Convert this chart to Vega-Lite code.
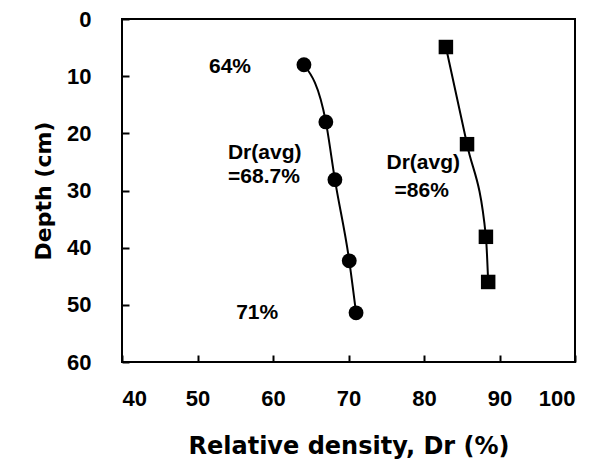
{
  "$schema": "https://vega.github.io/schema/vega-lite/v6.json",
  "autosize": {"type": "none"},
  "padding": {"left": 122, "top": 19, "right": 33, "bottom": 103},
  "width": 453,
  "height": 343,
  "background": "white",
  "config": {
    "view": {"stroke": "black", "strokeWidth": 2, "fill": "transparent"},
    "font": "Liberation Sans",
    "axis": {
      "domain": false, "tickColor": "black", "tickWidth": 2, "tickSize": 7, "offset": -7,
      "grid": false, "labelFont": "Liberation Sans", "labelFontWeight": "bold", "labelFontSize": 22,
      "labelColor": "black", "titleFont": "DejaVu Sans", "titleFontWeight": "bold", "titleColor": "black"
    }
  },
  "datasets": {
    "pts": [
      {"series": "loose", "dr": 64.1, "depth": 8.0},
      {"series": "loose", "dr": 67.0, "depth": 18.0},
      {"series": "loose", "dr": 68.2, "depth": 28.1},
      {"series": "loose", "dr": 70.1, "depth": 42.3},
      {"series": "loose", "dr": 71.0, "depth": 51.4},
      {"series": "dense", "dr": 82.9, "depth": 4.9},
      {"series": "dense", "dr": 85.7, "depth": 21.9},
      {"series": "dense", "dr": 88.2, "depth": 38.1},
      {"series": "dense", "dr": 88.5, "depth": 46.0}
    ],
    "labels": [
      {"label": "64%", "dr": 54.3, "depth": 8.4},
      {"label": "71%", "dr": 57.9, "depth": 51.4},
      {"label": "Dr(avg)", "dr": 58.9, "depth": 23.4},
      {"label": "=68.7%", "dr": 58.8, "depth": 27.6},
      {"label": "Dr(avg)", "dr": 79.9, "depth": 25.2},
      {"label": "=86%", "dr": 79.7, "depth": 30.1}
    ]
  },
  "layer": [
    {
      "data": {"name": "pts"},
      "mark": {"type": "line", "color": "black", "strokeWidth": 2, "interpolate": "monotone"},
      "encoding": {
        "x": {"field": "dr", "type": "quantitative", "scale": {"domain": [40, 100], "nice": false},
          "axis": {"title": "Relative density, Dr (%)", "tickCount": 6, "zindex": 1, "labelPadding": 26, "titlePadding": 25, "titleFontSize": 24}},
        "y": {"field": "depth", "type": "quantitative", "scale": {"domain": [0, 60], "reverse": true, "nice": false},
          "axis": {"title": "Depth (cm)", "tickCount": 6, "zindex": 1, "labelPadding": 31, "titlePadding": 11, "titleFontSize": 22}},
        "detail": {"field": "series"},
        "order": {"field": "depth", "type": "quantitative"}
      }
    },
    {
      "data": {"name": "pts"},
      "transform": [{"filter": "datum.series == 'loose'"}],
      "mark": {"type": "point", "shape": "circle", "filled": true, "color": "black", "opacity": 1, "size": 220},
      "encoding": {
        "x": {"field": "dr", "type": "quantitative"},
        "y": {"field": "depth", "type": "quantitative"}
      }
    },
    {
      "data": {"name": "pts"},
      "transform": [{"filter": "datum.series == 'dense'"}],
      "mark": {"type": "point", "shape": "square", "filled": true, "color": "black", "opacity": 1, "size": 210},
      "encoding": {
        "x": {"field": "dr", "type": "quantitative"},
        "y": {"field": "depth", "type": "quantitative"}
      }
    },
    {
      "data": {"name": "labels"},
      "mark": {"type": "text", "font": "Liberation Sans", "fontWeight": "bold", "fontSize": 21, "color": "black", "align": "center", "baseline": "middle"},
      "encoding": {
        "x": {"field": "dr", "type": "quantitative"},
        "y": {"field": "depth", "type": "quantitative"},
        "text": {"field": "label"}
      }
    }
  ]
}
